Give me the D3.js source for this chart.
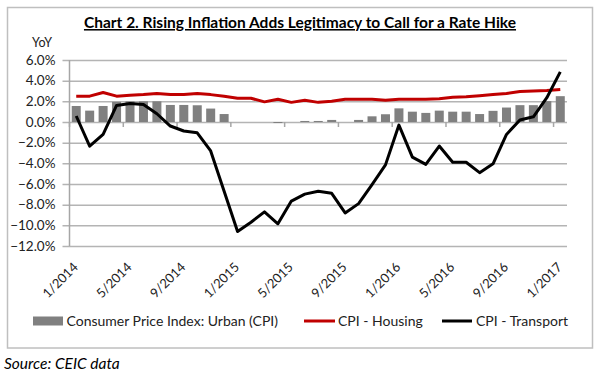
<!DOCTYPE html>
<html>
<head>
<meta charset="utf-8">
<script src="https://cdn.jsdelivr.net/npm/d3@7"></script>
<style>
  body { margin: 0; background: #fff; }
  svg { display: block; font-family: Lato, "Open Sans", sans-serif; }
</style>
</head>
<body>
<svg id="chart" width="600" height="378"></svg>
<script>
// monthly categories, 1/2014 .. 1/2017
const months = d3.timeMonth.range(new Date(2014, 0, 1), new Date(2017, 1, 1))
    .map(d => `${d.getMonth() + 1}/${d.getFullYear()}`);
const tickLabels = ["1/2014", "5/2014", "9/2014", "1/2015", "5/2015", "9/2015",
                    "1/2016", "5/2016", "9/2016", "1/2017"];
const yTicks = [6, 4, 2, 0, -2, -4, -6, -8, -10, -12];

// CPI urban (bars)
const cpiUrban = [1.55, 1.1, 1.55, 1.95, 2.0, 2.0, 2.0, 1.65, 1.65, 1.62, 1.3, 0.77,
                  0.0, 0.0, 0.0, -0.1, 0.0, 0.1, 0.1, 0.2, 0.0, 0.2, 0.55, 0.75,
                  1.32, 1.0, 0.88, 1.1, 1.0, 1.0, 0.77, 1.08, 1.4, 1.63, 1.63, 2.02, 2.5];
// CPI - Housing
const cpiHousing = [2.5, 2.5, 2.85, 2.5, 2.6, 2.65, 2.75, 2.65, 2.65, 2.75, 2.65, 2.5,
                    2.3, 2.3, 1.95, 2.2, 1.9, 2.1, 1.9, 2.0, 2.2, 2.2, 2.2, 2.1,
                    2.2, 2.2, 2.2, 2.25, 2.4, 2.45, 2.55, 2.65, 2.75, 2.95, 3.0, 3.05, 3.15];
// CPI - Transport
const cpiTransport = [0.58, -2.33, -1.2, 1.6, 1.8, 1.7, 0.8, -0.39, -0.87, -1.05, -2.8, -6.7,
                      -10.6, -9.7, -8.7, -9.85, -7.65, -6.98, -6.7, -6.9, -8.8, -7.9, -6.05, -4.15,
                      -0.3, -3.4, -4.1, -2.33, -3.9, -3.9, -4.9, -4.05, -1.2, 0.2, 0.5, 2.35, 4.85];

const svg = d3.select('#chart');
const M = {left: 69.5, right: 567, top: 60, bottom: 246};

const x = d3.scaleBand().domain(months).range([M.left, M.right]).paddingInner(0.33).paddingOuter(0.165);
const xc = d3.scaleBand().domain(months).range([M.left, M.right]);
const y = d3.scaleLinear().domain([-12, 6]).range([M.bottom, M.top]);

// chart frame
svg.append('rect')
    .attr('x', 7.5).attr('y', 7.5).attr('width', 585).attr('height', 340.5)
    .attr('fill', 'none').attr('stroke', '#bfbfbf').attr('stroke-width', 1.5);

// title
svg.append('text')
    .attr('x', 300).attr('y', 28)
    .attr('text-anchor', 'middle')
    .attr('font-weight', 'bold').attr('font-size', 15.5)
    .attr('text-decoration', 'underline')
    .text('Chart 2. Rising Inflation Adds Legitimacy to Call for a Rate Hike');

svg.append('text')
    .attr('x', 42).attr('y', 47).attr('text-anchor', 'middle')
    .attr('font-size', 12.5).attr('fill', '#222')
    .text('YoY');

// gridlines + y axis
const yAxis = svg.append('g')
    .attr('transform', `translate(${M.left},0)`)
    .call(d3.axisLeft(y).tickValues(yTicks).tickSize(-(M.right - M.left)).tickPadding(14)
        .tickFormat(d => d3.format('.1f')(d) + '%'));
yAxis.select('.domain').remove();
yAxis.selectAll('.tick line').attr('stroke', '#b4b4b4').attr('stroke-width', 1.5).attr('x1', -7);
yAxis.selectAll('.tick text').attr('font-size', 13.5).attr('fill', '#222').attr('font-family', 'Lato, sans-serif');

svg.append('line')
    .attr('x1', M.left).attr('x2', M.left).attr('y1', M.top).attr('y2', M.bottom)
    .attr('stroke', '#a6a6a6').attr('stroke-width', 1.5);

// bars
svg.append('g').selectAll('rect')
    .data(cpiUrban)
    .join('rect')
    .attr('x', (d, i) => x(months[i]))
    .attr('width', x.bandwidth())
    .attr('y', d => y(Math.max(0, d)))
    .attr('height', d => Math.abs(y(d) - y(0)))
    .attr('fill', '#808080');

// tick marks on zero line
svg.append('g').selectAll('line')
    .data(tickLabels)
    .join('line')
    .attr('x1', d => xc(d)).attr('x2', d => xc(d))
    .attr('y1', y(0)).attr('y2', y(0) + 5)
    .attr('stroke', '#a6a6a6').attr('stroke-width', 1.5);

// category labels at bottom
svg.append('g').selectAll('text')
    .data(tickLabels)
    .join('text')
    .attr('transform', d => `translate(${xc(d) + xc.bandwidth() / 2 + 2.5},${M.bottom + 22}) rotate(-45)`)
    .attr('text-anchor', 'end')
    .attr('font-size', 13).attr('fill', '#222')
    .text(d => d);

const line = d3.line()
    .x((d, i) => xc(months[i]) + xc.bandwidth() / 2)
    .y(d => y(d));

svg.append('path')
    .datum(cpiHousing)
    .attr('d', line)
    .attr('fill', 'none').attr('stroke', '#c00000').attr('stroke-width', 3)
    .attr('stroke-linejoin', 'round');

svg.append('path')
    .datum(cpiTransport)
    .attr('d', line)
    .attr('fill', 'none').attr('stroke', '#000').attr('stroke-width', 3)
    .attr('stroke-linejoin', 'round');

// legend
const legend = svg.append('g').attr('font-size', 14).attr('fill', '#222');
const legY = 321;
legend.append('rect').attr('x', 33).attr('y', legY - 4.5).attr('width', 30).attr('height', 9).attr('fill', '#808080');
legend.append('text').attr('x', 66.5).attr('y', legY + 5).text('Consumer Price Index: Urban (CPI)');
legend.append('line').attr('x1', 304).attr('x2', 335).attr('y1', legY).attr('y2', legY)
    .attr('stroke', '#c00000').attr('stroke-width', 3);
legend.append('text').attr('x', 338).attr('y', legY + 5).text('CPI - Housing');
legend.append('line').attr('x1', 442).attr('x2', 472).attr('y1', legY).attr('y2', legY)
    .attr('stroke', '#000').attr('stroke-width', 3);
legend.append('text').attr('x', 476).attr('y', legY + 5).text('CPI - Transport');

// source note
svg.append('text')
    .attr('x', 4).attr('y', 369)
    .attr('font-style', 'italic').attr('font-size', 15.5)
    .text('Source: CEIC data');
</script>
</body>
</html>
